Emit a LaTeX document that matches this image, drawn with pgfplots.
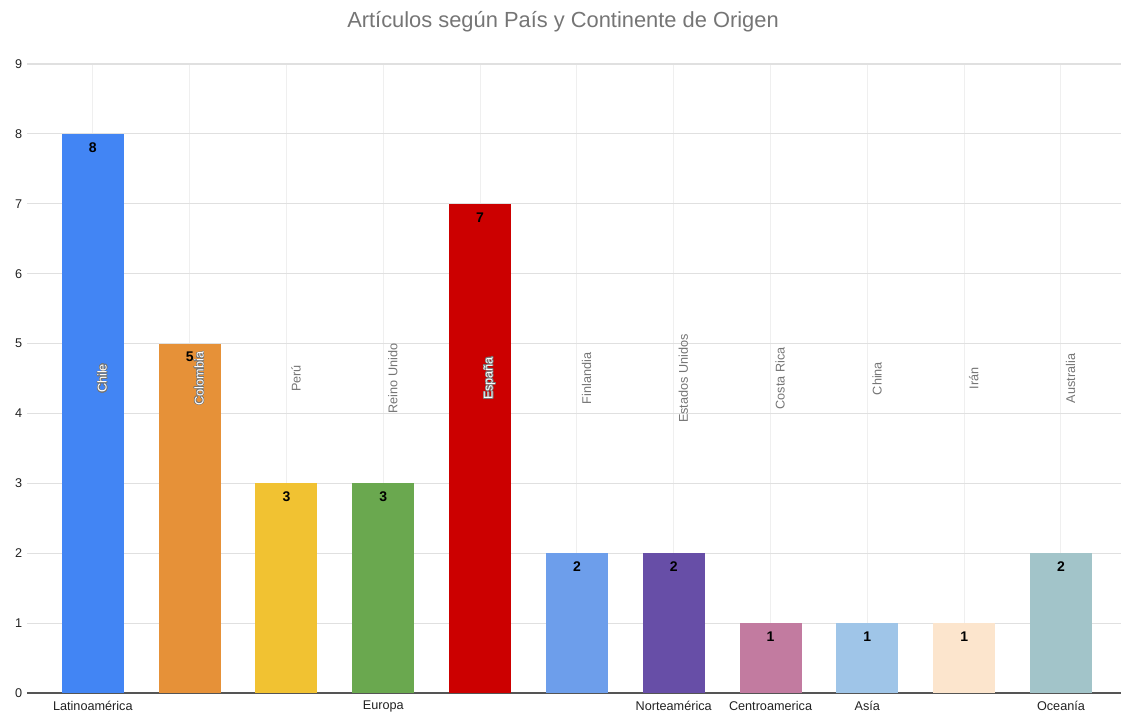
\documentclass[border=0pt]{standalone}
\usepackage{pgfplots}
\pgfplotsset{compat=1.18}
\usepackage{fontspec}
\setmainfont{Liberation Sans}
\usepackage{contour}
\contourlength{0.45pt}
\definecolor{c1}{HTML}{4285F4}
\definecolor{c2}{HTML}{E69138}
\definecolor{c3}{HTML}{F1C232}
\definecolor{c4}{HTML}{6AA84F}
\definecolor{c5}{HTML}{CC0000}
\definecolor{c6}{HTML}{6D9EEB}
\definecolor{c7}{HTML}{674EA7}
\definecolor{c8}{HTML}{C27BA0}
\definecolor{c9}{HTML}{9FC5E8}
\definecolor{c10}{HTML}{FCE5CD}
\definecolor{c11}{HTML}{A2C4C9}
\definecolor{gridc}{HTML}{E0E0E0}
\definecolor{vgridc}{HTML}{EFEFEF}
\definecolor{axisc}{HTML}{555555}
\definecolor{labgray}{HTML}{757575}
\definecolor{titlegray}{HTML}{757575}
\definecolor{ticktext}{HTML}{222222}
\begin{document}
\begin{tikzpicture}
\path[use as bounding box] (-20.25pt,-15pt) rectangle (820.5pt,519.75pt);
\begin{axis}[
  width=820.5pt, height=471.75pt, scale only axis,
  xmin=-0.68, xmax=10.62, ymin=0, ymax=9,
  ytick={0,...,9}, xtick={0,...,10},
  xticklabels={Latinoamérica,,,Europa,,,Norteamérica,Centroamerica,Asía,,Oceanía},
  major tick length=0pt,
  ymajorgrids, xmajorgrids,
  y grid style={color=gridc, line width=0.8pt},
  x grid style={color=vgridc, line width=0.75pt},
  axis x line*=bottom, axis y line*=left,
  x axis line style={color=axisc, line width=0.8pt, -},
  y axis line style={draw=none},
  tick label style={font=\fontsize{9.5}{11}\selectfont, text=ticktext},
  xticklabel style={yshift=-2.5pt},
  /pgf/number format/assume math mode=true,
  clip=false,
]
\addplot[ybar, bar width=46.5pt, bar shift=0pt, fill=c1, draw=none] coordinates {(0,8)};
\addplot[ybar, bar width=46.5pt, bar shift=0pt, fill=c2, draw=none] coordinates {(1,5)};
\addplot[ybar, bar width=46.5pt, bar shift=0pt, fill=c3, draw=none] coordinates {(2,3)};
\addplot[ybar, bar width=46.5pt, bar shift=0pt, fill=c4, draw=none] coordinates {(3,3)};
\addplot[ybar, bar width=46.5pt, bar shift=0pt, fill=c5, draw=none] coordinates {(4,7)};
\addplot[ybar, bar width=46.5pt, bar shift=0pt, fill=c6, draw=none] coordinates {(5,2)};
\addplot[ybar, bar width=46.5pt, bar shift=0pt, fill=c7, draw=none] coordinates {(6,2)};
\addplot[ybar, bar width=46.5pt, bar shift=0pt, fill=c8, draw=none] coordinates {(7,1)};
\addplot[ybar, bar width=46.5pt, bar shift=0pt, fill=c9, draw=none] coordinates {(8,1)};
\addplot[ybar, bar width=46.5pt, bar shift=0pt, fill=c10, draw=none] coordinates {(9,1)};
\addplot[ybar, bar width=46.5pt, bar shift=0pt, fill=c11, draw=none] coordinates {(10,2)};
% value labels
\addplot[draw=none, mark=none, nodes near coords, point meta=y,
  every node near coord/.append style={anchor=north, yshift=-3pt, text=black,
  font=\bfseries\fontsize{10.5}{12}\selectfont}]
  coordinates {(0,8) (1,5) (2,3) (3,3) (4,7) (5,2) (6,2) (7,1) (8,1) (9,1) (10,2)};
% country labels on bars (white, outlined)
\addplot[draw=none, mark=none, nodes near coords={\contour{labgray}{\pgfplotspointmeta}},
  point meta=explicit symbolic,
  every node near coord/.append style={anchor=center, rotate=90, text=white,
  font=\fontsize{9.5}{11}\selectfont}]
  coordinates {(0.1,4.5) [Chile] (1.1,4.5) [Colombia] (4.1,4.5) [España]};
% country labels off bars (gray)
\addplot[draw=none, mark=none, nodes near coords,
  point meta=explicit symbolic,
  every node near coord/.append style={anchor=center, rotate=90, text=labgray,
  font=\fontsize{9.5}{11}\selectfont}]
  coordinates {(2.1,4.5) [Perú] (3.1,4.5) [Reino Unido] (5.1,4.5) [Finlandia]
  (6.1,4.5) [Estados Unidos] (7.1,4.5) [Costa Rica] (8.1,4.5) [China]
  (9.1,4.5) [Irán] (10.1,4.5) [Australia]};
\end{axis}
\node[text=titlegray, font=\fontsize{16.4}{19}\selectfont] at (402pt,503.5pt) {Artículos según País y Continente de Origen};
\end{tikzpicture}
\end{document}
